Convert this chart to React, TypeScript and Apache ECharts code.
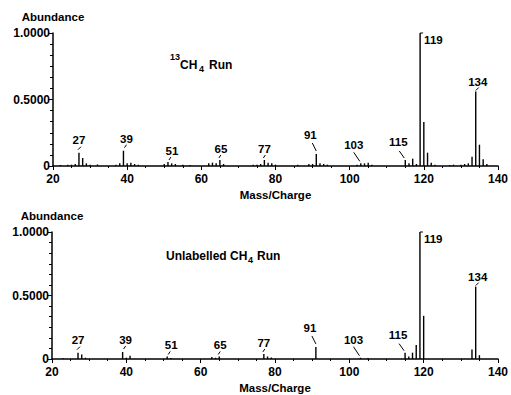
import React, { useEffect, useRef } from "react";
import * as echarts from "echarts";

// [mass, abundance] for the 13CH4 run
const topSpectrum: [number, number][] = [
  [22, 0.008], [24, 0.01], [25, 0.01], [26, 0.015], [27, 0.1], [28, 0.06], [29, 0.02], [30, 0.01],
  [32, 0.012], [37, 0.01], [38, 0.02], [39, 0.115], [40, 0.02], [41, 0.025], [42, 0.015], [43, 0.01],
  [50, 0.015], [51, 0.03], [52, 0.02], [53, 0.015], [55, 0.01], [57, 0.008],
  [62, 0.02], [63, 0.025], [64, 0.02], [65, 0.045], [66, 0.015],
  [74, 0.01], [75, 0.01], [76, 0.015], [77, 0.045], [78, 0.025], [79, 0.02], [80, 0.01],
  [86, 0.01], [89, 0.015], [90, 0.015], [91, 0.09], [92, 0.02], [93, 0.015], [94, 0.01],
  [102, 0.01], [103, 0.02], [104, 0.02], [105, 0.025], [106, 0.01],
  [115, 0.045], [116, 0.02], [117, 0.055], [118, 0.015], [119, 1.0], [120, 0.33], [121, 0.1], [122, 0.025], [123, 0.01],
  [127, 0.008], [128, 0.01], [130, 0.01], [131, 0.015], [132, 0.02], [133, 0.07], [134, 0.56], [135, 0.16], [136, 0.05], [137, 0.015],
];

// [mass, abundance] for the unlabelled CH4 run
const bottomSpectrum: [number, number][] = [
  [23, 0.006], [27, 0.05], [28, 0.035], [29, 0.01], [39, 0.055], [40, 0.01], [41, 0.025],
  [51, 0.02], [52, 0.008], [63, 0.015], [64, 0.01], [65, 0.02],
  [77, 0.04], [78, 0.02], [79, 0.012], [91, 0.095], [103, 0.01], [105, 0.008],
  [115, 0.05], [116, 0.02], [117, 0.05], [118, 0.11], [119, 1.0], [120, 0.34],
  [133, 0.075], [134, 0.57], [135, 0.03],
];

const labelledMasses = [27, 39, 51, 65, 77, 91, 103, 115, 119, 134];
const xTicks = [20, 40, 60, 80, 100, 120, 140];
const yTickLabels: Record<string, string> = { "0": "0", "0.5": "0.5000", "1": "1.0000" };

// label placement offsets (px), relative to the top of each peak
const labelPlacement: Record<number, { dx: number; dy: number; l: number[]; align?: string }> = {
  27: { dx: 0, dy: -13, l: [-1, -3, 2, -6] },
  39: { dx: 3, dy: -12, l: [1, -3, 3, -6] },
  51: { dx: 4, dy: -11, l: [1, -2, 3, -5] },
  65: { dx: 1, dy: -11, l: [-1, -2, 1, -5] },
  77: { dx: 0, dy: -11, l: [-1, -2, 1, -5] },
  91: { dx: -6, dy: -19, l: [-4, -11, 0, -3] },
  103: { dx: -7, dy: -18, l: [-7, -11, -1, -2] },
  115: { dx: -7, dy: -18, l: [-6, -9, -1, -2] },
  119: { dx: 4, dy: 7, l: [0, 0, 3, 0], align: "left" },
  134: { dx: 2, dy: -10, l: [0, -1, 3, -4] },
};

const FONT = "Liberation Sans";

function labelData(spec: [number, number][]) {
  return labelledMasses.map((m) => {
    const f = spec.find((d) => d[0] === m);
    return [m, f ? f[1] : 0];
  });
}

function makeAxes(gridIndex: number) {
  const xAxis = {
    type: "value",
    gridIndex,
    min: 20,
    max: 140,
    interval: 20,
    name: "Mass/Charge",
    nameLocation: "middle",
    nameGap: 23,
    nameTextStyle: { fontFamily: FONT, fontWeight: "bold", fontSize: 11.5, color: "#000" },
    axisLine: { show: true, lineStyle: { color: "#000", width: 1.5 } },
    axisTick: { show: true, length: 4, lineStyle: { color: "#000", width: 1 } },
    minorTick: { show: true, splitNumber: 4, length: 2, lineStyle: { color: "#000" } },
    axisLabel: {
      fontFamily: FONT, fontWeight: "bold", fontSize: 12, color: "#000", margin: 7,
      formatter: (v: number) => (xTicks.includes(v) ? String(v) : ""),
    },
    splitLine: { show: false },
  };
  const yAxis = {
    type: "value",
    gridIndex,
    min: 0,
    max: 1,
    interval: 0.5,
    name: "Abundance",
    nameLocation: "end",
    nameGap: 10,
    nameTextStyle: { fontFamily: FONT, fontWeight: "bold", fontSize: 11.5, color: "#000" },
    axisLine: { show: true, lineStyle: { color: "#000", width: 1.5 } },
    axisTick: { show: true, length: 5, lineStyle: { color: "#000", width: 1 } },
    minorTick: { show: true, splitNumber: 6, length: 3, lineStyle: { color: "#000" } },
    axisLabel: {
      fontFamily: FONT, fontWeight: "bold", fontSize: 12, color: "#000", margin: 3,
      formatter: (v: number) => yTickLabels[String(v)] ?? "",
    },
    splitLine: { show: false },
  };
  return { xAxis, yAxis };
}

function labelSeries(idx: number, spec: [number, number][]) {
  return {
    type: "custom",
    xAxisIndex: idx,
    yAxisIndex: idx,
    data: labelData(spec),
    clip: false,
    renderItem: (params: any, api: any) => {
      const m = api.value(0);
      const v = api.value(1);
      const p = api.coord([m, v]);
      const o = labelPlacement[m];
      return {
        type: "group",
        children: [
          {
            type: "text",
            x: p[0] + o.dx,
            y: p[1] + o.dy,
            style: {
              text: String(m),
              fontFamily: FONT,
              fontWeight: "bold",
              fontSize: 11.5,
              fill: "#000",
              align: o.align || "center",
              verticalAlign: "middle",
            },
          },
          {
            type: "line",
            shape: { x1: p[0] + o.l[0], y1: p[1] + o.l[1], x2: p[0] + o.l[2], y2: p[1] + o.l[3] },
            style: { stroke: "#000", lineWidth: 1 },
          },
        ],
      };
    },
  };
}

function titleTexts(parts: { t: string; x: number; y: number; s: number }[]) {
  return parts.map((p) => ({
    type: "text",
    x: p.x,
    y: p.y,
    style: {
      text: p.t, fontFamily: FONT, fontWeight: "bold", fontSize: p.s, fill: "#000",
      align: "left", verticalAlign: "middle",
    },
  }));
}

export default function App() {
  const ref = useRef<HTMLDivElement>(null);
  useEffect(() => {
    if (!ref.current) return;
    const chart = echarts.init(ref.current, null, { renderer: "svg" });
    const a0 = makeAxes(0);
    const a1 = makeAxes(1);
    chart.setOption({
      animation: false,
      backgroundColor: "#fff",
      grid: [
        { left: 53, top: 33, width: 450, height: 133 },
        { left: 52, top: 232, width: 449, height: 132 },
      ],
      xAxis: [a0.xAxis, a1.xAxis],
      yAxis: [a0.yAxis, a1.yAxis],
      series: [
        {
          type: "bar", xAxisIndex: 0, yAxisIndex: 0, data: topSpectrum, barWidth: 1.4,
          itemStyle: { color: "#000" }, silent: true,
        },
        {
          type: "bar", xAxisIndex: 1, yAxisIndex: 1, data: bottomSpectrum, barWidth: 1.4,
          itemStyle: { color: "#000" }, silent: true,
        },
        labelSeries(0, topSpectrum),
        labelSeries(1, bottomSpectrum),
      ],
      graphic: [
        ...titleTexts([
          { t: "13", x: 170, y: 57, s: 9 },
          { t: "CH", x: 180, y: 65, s: 12 },
          { t: "4", x: 199, y: 69, s: 9 },
          { t: "Run", x: 209, y: 65, s: 12 },
        ]),
        ...titleTexts([
          { t: "Unlabelled CH", x: 166, y: 256, s: 12 },
          { t: "4", x: 248, y: 260, s: 9 },
          { t: "Run", x: 257, y: 256, s: 12 },
        ]),
      ],
    });
    return () => chart.dispose();
  }, []);
  return (
    <div
      ref={ref}
      style={{ position: "absolute", left: 0, top: 0, width: 511, height: 395 }}
    />
  );
}
